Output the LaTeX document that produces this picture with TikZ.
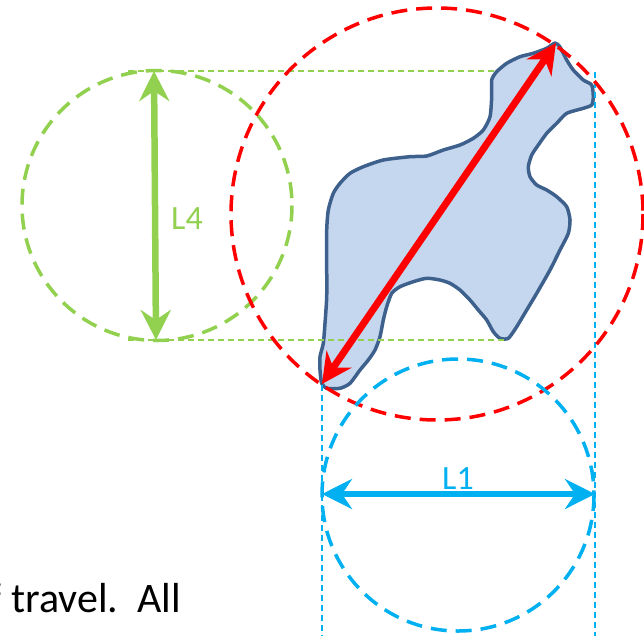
\documentclass[tikz,border=0pt]{standalone}
\usepackage{fontspec}
\setmainfont{Carlito}
\usetikzlibrary{arrows.meta}

\definecolor{redline}{RGB}{255,0,0}
\definecolor{greenline}{RGB}{146,208,80}
\definecolor{blueline}{RGB}{0,176,240}
\definecolor{shapefill}{RGB}{197,215,238}
\definecolor{shapeedge}{RGB}{61,96,140}

\begin{document}
\begin{tikzpicture}[
  x=1pt, y=-1pt,
  circ/.style={dash pattern=on 16pt off 9pt, line width=3.5pt},
  guide/.style={dash pattern=on 6pt off 4pt, line width=1.6pt},
  arr/.style={{Stealth[length=30pt, width=30pt, inset=10pt]}-{Stealth[length=30pt, width=30pt, inset=10pt]}, line width=6.5pt},
  lbl/.style={inner sep=0pt, font=\fontsize{34}{34}\selectfont}
]
  \useasboundingbox (0,0) rectangle (644,635);
  \clip (0,0) rectangle (644,635);

  % outline of the object
  \draw[shapeedge, fill=shapefill, line width=3.5pt, line join=round]
    plot[smooth cycle, tension=0.4] coordinates {
      (555,43) (560,47) (566.7,60) (573.3,70) (583.3,80) (591.7,85) (593.3,96.7)
      (591.7,105) (583.3,108.3) (566.7,113.3) (556.7,123.3) (546.7,133.3)
      (538.3,145) (531.7,155) (528.3,166.7) (530,176.7) (536.7,185) (546.7,190)
      (556.7,196.7) (566.7,206.7) (570,220) (568.3,233.3) (560,250) (550,270)
      (536.7,293.3) (526.7,310) (516.7,326.7) (508.3,338.3) (500,338.3)
      (493.3,331.7) (486.7,320) (478.3,310) (470,300) (460,290) (450,283.3)
      (440,280) (426.7,278.3) (413.3,281.7) (400,286.7) (391.7,293.3)
      (386.7,306.7) (383.3,320) (380,336.7) (375,350) (368.3,360) (360,370)
      (350,383.3) (340,388.3) (326.7,388.3) (321.7,383.3) (320,370)
      (320,356.7) (323.3,343.3) (325,323.3) (326.7,296.7) (326.7,263.3)
      (326.7,230) (328.3,210) (333.3,193.3) (340,183.3) (350,173.3)
      (363.3,166.7) (383.3,160) (410,156.7) (426.7,156) (443.3,150) (460,145)
      (473.3,138.3) (483.3,130) (490,116.7) (491.7,96.7) (491.7,80)
      (496.7,71.7) (506.7,63.3) (520,56.7) (533.3,53.3) (546.7,48.3)};

  % end points
  \coordinate (gtop) at (154,71);
  \coordinate (gbot) at (156,340);
  \coordinate (gtl) at (128,71);
  \coordinate (gtr) at (497,71);
  \coordinate (gbl) at (128,340);
  \coordinate (gbr) at (507,340);
  \coordinate (rlo) at (322,384);
  \coordinate (rhi) at (556,43);
  \coordinate (bl) at (322,494);
  \coordinate (br) at (595,494);
  \coordinate (blt) at (322,385);
  \coordinate (blb) at (322,640);
  \coordinate (brt) at (595,72);
  \coordinate (brb) at (595,640);

  % guide lines
  \draw[guide, greenline] (gtl) -- (gtr);
  \draw[guide, greenline] (gbl) -- (gbr);
  \draw[guide, blueline] (blt) -- (blb);
  \draw[guide, blueline] (brt) -- (brb);

  % circles
  \draw[circ, greenline] (157,205.5) circle[radius=135];
  \draw[circ, redline] (437,214) circle[radius=206];
  \draw[circ, blueline] (458,495) circle[radius=136];

  % arrows
  \draw[arr, greenline] (gtop) -- (gbot);
  \draw[arr, redline, line width=7pt] (rlo) -- (rhi);
  \draw[arr, blueline] (bl) -- (br);

  \node[lbl, text=greenline] (lfour) at (187,219) {L4};
  \node[lbl, text=blueline] (lone) at (458,479) {L1};

  \node[inner sep=0pt, anchor=base east, font=\fontsize{42}{42}\selectfont] (caption) at (181,612) {f travel.\ \ All};
\end{tikzpicture}
\end{document}
